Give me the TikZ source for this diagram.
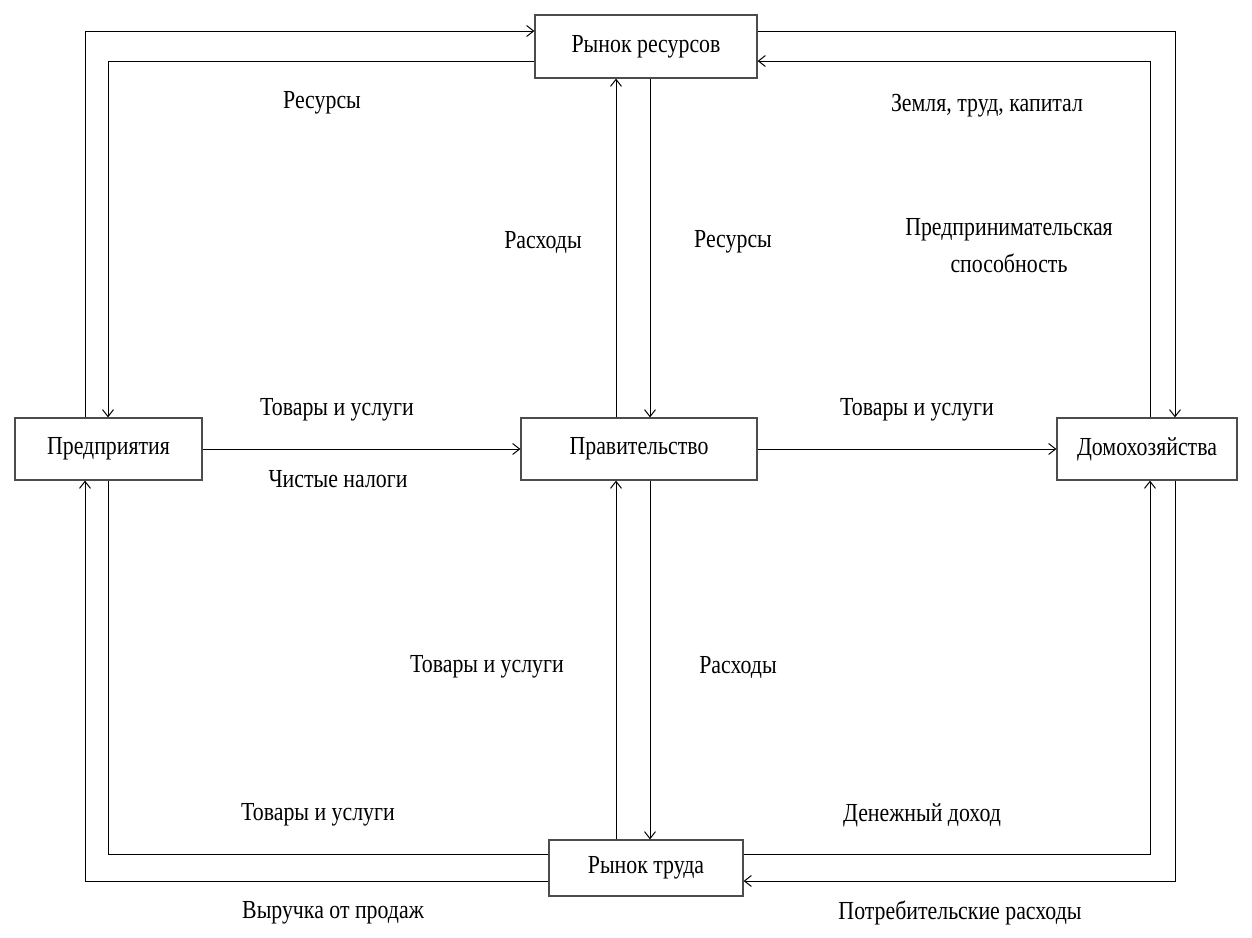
\documentclass[tikz,border=0pt]{standalone}
\usepackage{fontspec}
\setmainfont{Liberation Serif}[FakeStretch=0.84]
\usetikzlibrary{arrows.meta}
\begin{document}
\begin{tikzpicture}[x=1pt,y=-1pt,
  box/.style={draw=black!70, line width=1.2pt, fill=white, inner sep=0pt, font=\fontsize{26}{31}\selectfont},
  lbl/.style={font=\fontsize{26}{31}\selectfont, inner sep=0pt, align=center},
  flow/.style={draw=black, line width=1pt},
  arr/.style={flow, -{Straight Barb[length=7pt,width=11pt]}}]
\useasboundingbox (0,0) rectangle (1252,937);
% boxes
\node[box, minimum width=187pt, minimum height=62pt] (P) at (108.5,449) {Предприятия};
\node[box, minimum width=236pt, minimum height=62pt] (G) at (639,449) {Правительство};
\node[box, minimum width=180pt, minimum height=62pt] (H) at (1147,449) {Домохозяйства};
\node[box, minimum width=222pt, minimum height=63pt] (R) at (646,46.5) {Рынок ресурсов};
\node[box, minimum width=194pt, minimum height=56pt] (T) at (646,868) {Рынок труда};
% helper coordinates
\coordinate (c1) at (85,31);
\coordinate (c2) at (108,61);
\coordinate (c3) at (1175,31);
\coordinate (c4) at (1150,61);
\coordinate (c5) at (616,0);
\coordinate (c6) at (650,0);
\coordinate (c7) at (0,854);
\coordinate (c8) at (0,881);
% top loops
\draw[arr] (P.north -| c1) |- (R.west |- c1);
\draw[arr] (R.west |- c2) -| (P.north -| c2);
\draw[arr] (R.east |- c1) -| (H.north -| c3);
\draw[arr] (H.north -| c4) |- (R.east |- c4);
% centre verticals
\draw[arr] (G.north -| c5) -- (R.south -| c5);
\draw[arr] (R.south -| c6) -- (G.north -| c6);
\draw[arr] (T.north -| c5) -- (G.south -| c5);
\draw[arr] (G.south -| c6) -- (T.north -| c6);
% horizontals
\draw[arr] (P.east) -- (G.west);
\draw[arr] (G.east) -- (H.west);
% bottom loops
\draw[arr] (T.west |- c8) -| (P.south -| c1);
\draw[flow] (P.south -| c2) |- (T.west |- c7);
\draw[arr] (T.east |- c7) -| (H.south -| c4);
\draw[arr] (H.south -| c3) |- (T.east |- c8);
% labels
\node[lbl] (l1) at (322,103) {Ресурсы};
\node[lbl] (l2) at (987,106) {Земля, труд, капитал};
\node[lbl] (l3) at (543,242) {Расходы};
\node[lbl] (l4) at (733,242) {Ресурсы};
\node[lbl] (l5) at (1009,246) {Предпринимательская\\[6pt]способность};
\node[lbl] (l6) at (337,410) {Товары и услуги};
\node[lbl] (l7) at (338,479) {Чистые налоги};
\node[lbl] (l8) at (917,410) {Товары и услуги};
\node[lbl] (l9) at (487,667) {Товары и услуги};
\node[lbl] (l10) at (738,667) {Расходы};
\node[lbl] (l11) at (318,815) {Товары и услуги};
\node[lbl] (l12) at (922,815) {Денежный доход};
\node[lbl] (l13) at (333,913) {Выручка от продаж};
\node[lbl] (l14) at (960,913) {Потребительские расходы};
\end{tikzpicture}
\end{document}
